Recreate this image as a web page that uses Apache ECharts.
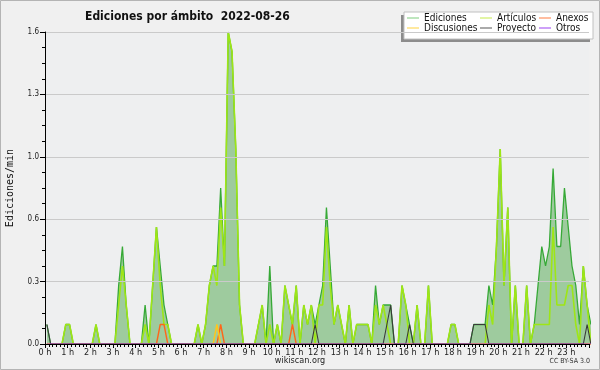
<!DOCTYPE html>
<html><head><meta charset="utf-8">
<script src="https://cdn.jsdelivr.net/npm/echarts@6/dist/echarts.min.js"></script>
<style>html,body{margin:0;padding:0;background:#f0f0f0}#c{width:600px;height:370px}</style>
</head><body><div id="c"></div>
<script>
// 10-minute bins of 2022-08-26, values in edits per minute
const hourTicks = ['0 h','1 h','2 h','3 h','4 h','5 h','6 h','7 h','8 h','9 h','10 h','11 h','12 h','13 h','14 h','15 h','16 h','17 h','18 h','19 h','20 h','21 h','22 h','23 h'];
const yTicks = ['0.0','0.3','0.6','1.0','1.3','1.6'];

const ediciones = [
0.1,0,0,0,0,0.1,0.1,0,0,0,
0,0,0,0.1,0,0,0,0,0,0.3,
0.5,0.2,0,0,0,0,0.2,0,0.3,0.6,
0.4,0.2,0.1,0,0,0,0,0,0,0,
0.1,0,0.1,0.3,0.4,0.4,0.8,0.4,1.6,1.5,
1.0,0.2,0,0,0,0,0.1,0.2,0,0.4,
0,0.1,0,0.3,0.2,0.1,0.3,0,0.2,0.1,
0.2,0.1,0.2,0.3,0.7,0.4,0.1,0.2,0.1,0,
0.2,0,0.1,0.1,0.1,0.1,0,0.3,0.1,0.2,
0.2,0.2,0,0,0.3,0.2,0.1,0,0.2,0,
0,0.3,0,0,0,0,0,0.1,0.1,0,
0,0,0,0.1,0.1,0.1,0.1,0.3,0.2,0.5,
1.0,0.3,0.7,0,0.3,0,0,0.3,0,0.1,
0.3,0.5,0.4,0.5,0.9,0.5,0.5,0.8,0.6,0.4,
0.3,0.1,0.4,0.2,0.1];
const articulos = [
0,0,0,0,0,0.1,0.1,0,0,0,
0,0,0,0.1,0,0,0,0,0,0.2,
0.4,0.2,0,0,0,0,0.1,0,0.3,0.6,
0.3,0.1,0.1,0,0,0,0,0,0,0,
0.1,0,0.1,0.3,0.4,0.3,0.7,0.4,1.6,1.5,
1.0,0.2,0,0,0,0,0.1,0.2,0,0.1,
0,0.1,0,0.3,0.2,0.1,0.3,0,0.2,0.1,
0.2,0,0.2,0.2,0.6,0.3,0.1,0.2,0.1,0,
0.2,0,0.1,0.1,0.1,0.1,0,0.2,0.1,0.2,
0.1,0,0,0,0.3,0.2,0,0,0.2,0,
0,0.3,0,0,0,0,0,0.1,0.1,0,
0,0,0,0,0,0,0,0.2,0.1,0.5,
1.0,0.3,0.7,0,0.3,0,0,0.3,0,0.1,
0.1,0.1,0.1,0.1,0.6,0.2,0.2,0.2,0.3,0.3,
0.1,0,0.4,0.2,0];
const anexos = [
0,0,0,0,0,0,0,0,0,0,
0,0,0,0,0,0,0,0,0,0,
0,0,0,0,0,0,0,0,0,0,
0.1,0.1,0,0,0,0,0,0,0,0,
0,0,0,0,0,0,0.1,0,0,0,
0,0,0,0,0,0,0,0,0,0,
0,0,0,0,0,0.1,0,0,0,0,
0,0,0,0,0,0,0,0,0,0,
0,0,0,0,0,0,0,0,0,0,
0,0,0,0,0,0,0,0,0,0,
0,0,0,0,0,0,0,0,0,0,
0,0,0,0,0,0,0,0,0,0,
0,0,0,0,0,0,0,0,0,0,
0,0,0,0,0,0,0,0,0,0,
0,0,0,0,0];
const discusiones = [
0,0,0,0,0,0,0,0,0,0,
0,0,0,0,0,0,0,0,0,0,
0,0,0,0,0,0,0,0,0,0,
0,0,0,0,0,0,0,0,0,0,
0,0,0,0,0,0.1,0,0,0,0,
0,0,0,0,0,0,0,0,0,0,
0,0,0,0,0,0,0,0,0,0,
0,0,0,0,0,0,0,0,0,0,
0,0,0,0,0,0,0,0,0,0,
0,0,0,0,0,0,0,0,0,0,
0,0,0,0,0,0,0,0,0,0,
0,0,0,0,0,0,0,0,0,0,
0,0,0,0,0,0,0,0,0,0,
0,0,0,0,0,0,0,0,0,0,
0,0,0,0,0];
const proyecto = [
0.1,0,0,0,0,0,0,0,0,0,
0,0,0,0,0,0,0,0,0,0,
0,0,0,0,0,0,0,0,0,0,
0,0,0,0,0,0,0,0,0,0,
0,0,0,0,0,0,0,0,0,0,
0,0,0,0,0,0,0,0,0,0,
0,0,0,0,0,0,0,0,0,0,
0,0.1,0,0,0,0,0,0,0,0,
0,0,0,0,0,0,0,0,0,0,
0.1,0.2,0,0,0,0,0.1,0,0,0,
0,0,0,0,0,0,0,0,0,0,
0,0,0,0.1,0.1,0.1,0.1,0,0,0,
0,0,0,0,0,0,0,0,0,0,
0,0,0,0,0,0,0,0,0,0,
0,0,0,0.1,0];
const otros = new Array(ediciones.length).fill(0);

// bin centres, in hours
const binHours = ediciones.map((_, i) => (i + 0.5) / 6);
const pts = arr => arr.map((v, i) => [binHours[i], v]);

const F = '"DejaVu Sans Condensed","DejaVu Sans",sans-serif';
const chart = echarts.init(document.getElementById('c'), null, {renderer: 'canvas'});

function lineSeries(name, data, color, width, extra) {
  return Object.assign({
    name, type: 'line', data: pts(data), symbol: 'none', silent: true,
    color: color, itemStyle: {color: color},
    lineStyle: {color: color, width: width}, clip: true, z: 3
  }, extra || {});
}

const legendCommon = {
  orient: 'vertical', top: 13, padding: 0, itemGap: 0, itemWidth: 12, itemHeight: 1,
  icon: 'rect', selectedMode: false, z: 8,
  textStyle: {fontFamily: F, fontSize: 10, color: '#111', lineHeight: 10, padding: [0, 0, 0, 0]},
  itemStyle: {borderWidth: 0}
};

chart.setOption({
  animation: false,
  backgroundColor: '#f0f0f0',
  title: {
    text: 'Ediciones por ámbito  2022-08-26', left: 80, top: 6,
    textStyle: {fontFamily: F, fontSize: 12, fontWeight: 'bold', color: '#111'}
  },
  grid: {left: 45, right: 11, top: 32, bottom: 26, show: true, backgroundColor: '#eeeff0', borderWidth: 0},
  legend: [
    Object.assign({}, legendCommon, {left: 407, data: [{name: 'Ediciones', itemStyle: {color: '#7ccc7c'}}, {name: 'Discusiones', itemStyle: {color: '#ffd23f'}}]}),
    Object.assign({}, legendCommon, {left: 480, data: [{name: 'Artículos', itemStyle: {color: '#c4ea4a'}}, {name: 'Proyecto', itemStyle: {color: '#555555'}}]}),
    Object.assign({}, legendCommon, {left: 539, data: [{name: 'Anexos', itemStyle: {color: '#ff7a40'}}, {name: 'Otros', itemStyle: {color: '#9a40f0'}}]})
  ],
  xAxis: {
    type: 'value', min: 0, max: 24, interval: 1, z: 10,
    axisLine: {show: true, onZero: false, lineStyle: {color: '#000', width: 1}},
    axisTick: {show: true, length: 4, lineStyle: {color: '#000'}},
    minorTick: {show: true, splitNumber: 6, length: 3, lineStyle: {color: '#000'}},
    splitLine: {show: false},
    axisLabel: {formatter: v => hourTicks[Math.round(v)] || '', fontFamily: F, fontSize: 9, color: '#222', margin: 4}
  },
  yAxis: {
    type: 'value', min: 0, max: 1.6, interval: 0.32, z: 10,
    axisLine: {show: true, lineStyle: {color: '#000', width: 1}},
    axisTick: {show: true, length: 5, lineStyle: {color: '#000'}},
    minorTick: {show: true, splitNumber: 4, length: 3, lineStyle: {color: '#000'}},
    splitLine: {show: true, lineStyle: {color: '#cacaca', width: 1}},
    axisLabel: {formatter: v => yTicks[Math.round(v / 0.32)], fontFamily: F, fontSize: 8, color: '#222', margin: 6}
  },
  series: [
    lineSeries('Ediciones', ediciones, '#36a936', 1.3, {areaStyle: {color: '#9ecb9e', opacity: 1}, z: 2}),
    lineSeries('Artículos', articulos, '#9ee616', 1.6),
    lineSeries('Anexos', anexos, '#ff6619', 1.4),
    lineSeries('Discusiones', discusiones, '#ffc61a', 1.4),
    lineSeries('Proyecto', proyecto, '#3a3a3a', 1.1),
    lineSeries('Otros', otros, '#9a40f0', 1.2)
  ],
  graphic: [
    {type: 'text', z: 6, x: 10, y: 188, rotation: Math.PI / 2,
     style: {text: 'Ediciones/min', fontFamily: '"DejaVu Sans Mono",monospace', fontSize: 10, fill: '#111', align: 'center', verticalAlign: 'middle'}},
    {type: 'rect', z: 5, shape: {x: 401, y: 15, width: 189, height: 27}, style: {fill: '#8c8c8c'}, silent: true},
    {type: 'rect', z: 6, shape: {x: 404, y: 12, width: 189, height: 27}, style: {fill: '#ffffff', stroke: '#c0c0c0', lineWidth: 1}, silent: true},
    {type: 'text', z: 6, left: 'center', top: 356, style: {text: 'wikiscan.org', fontFamily: F, fontSize: 9, fill: '#222'}},
    {type: 'text', z: 6, right: 10, top: 358, style: {text: 'CC BY-SA 3.0', fontFamily: F, fontSize: 7, fill: '#333'}},
    {type: 'rect', z: 7, shape: {x: 0.5, y: 0.5, width: 599, height: 369}, style: {fill: 'none', stroke: '#b4b4b4', lineWidth: 1}, silent: true}
  ]
});
</script>
</body></html>
